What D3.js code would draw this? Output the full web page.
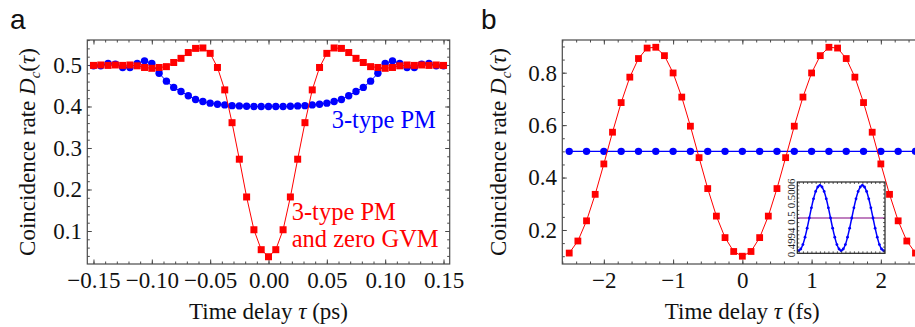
<!DOCTYPE html>
<html>
<head>
<meta charset="utf-8">
<script src="https://cdn.jsdelivr.net/npm/d3@7"></script>
<style>
  body { margin: 0; background: #fff; }
  svg { display: block; }
</style>
</head>
<body>
<svg id="chart" width="915" height="327"></svg>
<script>
// ---------- Panel a: coincidence rate vs time delay (ps) ----------
const tauA = [-0.15, -0.14375, -0.1375, -0.13125, -0.125, -0.11875, -0.1125, -0.10625, -0.1,
  -0.09375, -0.0875, -0.08125, -0.075, -0.06875, -0.0625, -0.05625, -0.05, -0.04375, -0.0375,
  -0.03125, -0.025, -0.01875, -0.0125, -0.00625, 0, 0.00625, 0.0125, 0.01875, 0.025, 0.03125,
  0.0375, 0.04375, 0.05, 0.05625, 0.0625, 0.06875, 0.075, 0.08125, 0.0875, 0.09375, 0.1,
  0.10625, 0.1125, 0.11875, 0.125, 0.13125, 0.1375, 0.14375, 0.15];

// 3-type PM
const blueA = [0.498, 0.498, 0.504, 0.502, 0.494, 0.494, 0.504, 0.510, 0.504, 0.480, 0.461,
  0.446, 0.436, 0.426, 0.417, 0.412, 0.408, 0.4055, 0.4038, 0.402, 0.4014, 0.4006, 0.400,
  0.400, 0.400, 0.400, 0.400, 0.4006, 0.4014, 0.402, 0.4038, 0.4055, 0.408, 0.412, 0.417,
  0.426, 0.436, 0.446, 0.461, 0.480, 0.504, 0.510, 0.504, 0.494, 0.494, 0.502, 0.504, 0.498, 0.498];

// 3-type PM and zero GVM
const redA = [0.499, 0.500, 0.499, 0.500, 0.499, 0.500, 0.498, 0.494, 0.492, 0.494, 0.496,
  0.506, 0.516, 0.530, 0.540, 0.541, 0.528, 0.494, 0.440, 0.361, 0.273, 0.182, 0.103, 0.055,
  0.038, 0.055, 0.103, 0.182, 0.273, 0.361, 0.440, 0.494, 0.528, 0.541, 0.540, 0.530, 0.516,
  0.506, 0.496, 0.494, 0.492, 0.494, 0.498, 0.500, 0.499, 0.500, 0.499, 0.500, 0.499];

const xTicksA = [-0.15, -0.10, -0.05, 0, 0.05, 0.10, 0.15];
const xTickLabelsA = ["\u22120.15", "\u22120.10", "\u22120.05", "0.00", "0.05", "0.10", "0.15"];
const yTicksA = [0.1, 0.2, 0.3, 0.4, 0.5];
const yTickLabelsA = ["0.1", "0.2", "0.3", "0.4", "0.5"];

// ---------- Panel b: coincidence rate vs time delay (fs) ----------
const tauRedB = [-2.5, -2.375, -2.25, -2.125, -2, -1.875, -1.75, -1.625, -1.5, -1.375, -1.25,
  -1.125, -1, -0.875, -0.75, -0.625, -0.5, -0.375, -0.25, -0.125, 0, 0.125, 0.25, 0.375, 0.5,
  0.625, 0.75, 0.875, 1, 1.125, 1.25, 1.375, 1.5, 1.625, 1.75, 1.875, 2, 2.125, 2.25, 2.375, 2.5];
const redB = [0.112, 0.158, 0.235, 0.336, 0.452, 0.573, 0.686, 0.783, 0.854, 0.894, 0.897,
  0.865, 0.799, 0.707, 0.596, 0.476, 0.358, 0.253, 0.171, 0.118, 0.100, 0.118, 0.171, 0.253,
  0.358, 0.476, 0.596, 0.707, 0.799, 0.865, 0.897, 0.894, 0.854, 0.783, 0.686, 0.573, 0.452,
  0.336, 0.235, 0.158, 0.112];

const tauBlueB = [-2.5, -2.25, -2, -1.75, -1.5, -1.25, -1, -0.75, -0.5, -0.25, 0, 0.25, 0.5,
  0.75, 1, 1.25, 1.5, 1.75, 2, 2.25, 2.5];
const blueB = [0.5, 0.5, 0.5, 0.5, 0.5, 0.5, 0.5, 0.5, 0.5, 0.5, 0.5, 0.5, 0.5, 0.5, 0.5, 0.5,
  0.5, 0.5, 0.5, 0.5, 0.5];

// Inset: the 3-type PM curve magnified around 0.5
const insetB = [0.49920, 0.49924, 0.49935, 0.49953, 0.49975, 0.50000, 0.50025, 0.50047,
  0.50065, 0.50076, 0.50080, 0.50076, 0.50065, 0.50047, 0.50025, 0.50000, 0.49975, 0.49953,
  0.49935, 0.49924, 0.49920, 0.49924, 0.49935, 0.49953, 0.49975, 0.50000, 0.50025, 0.50047,
  0.50065, 0.50076, 0.50080, 0.50076, 0.50065, 0.50047, 0.50025, 0.50000, 0.49975, 0.49953,
  0.49935, 0.49924, 0.49920];
const insetYTicks = [0.4994, 0.5, 0.5006];
const insetYTickLabels = ["0.4994", "0.5", "0.5006"];

const xTicksB = [-2, -1, 0, 1, 2];
const xTickLabelsB = ["\u22122", "\u22121", "0", "1", "2"];
const yTicksB = [0.2, 0.4, 0.6, 0.8];
const yTickLabelsB = ["0.2", "0.4", "0.6", "0.8"];

// ---------- drawing ----------
const svg = d3.select("#chart");
const SERIF = "'Liberation Serif', 'Times New Roman', serif";
const SANS = "'Liberation Sans', Arial, sans-serif";
const FRAME = "#4a4a4a";
const RED = "#ff0000", BLUE = "#0000ff";

function frameAxes(g, x, y, opt) {
  const [x0, x1] = x.range();
  const [y1, y0] = y.range();
  const fmt = (ticks, labels) => d => labels[ticks.indexOf(d)];
  const style = sel => {
    sel.select(".domain").remove();
    sel.selectAll("line").attr("stroke", FRAME).attr("stroke-width", 1);
    sel.selectAll("text").attr("font-family", SERIF).attr("font-size", opt.fs)
      .attr("fill", "#111");
  };
  const minorX = d3.range(opt.xMinor[0], opt.xMinor[1] + 1e-9, opt.xMinor[2]);
  const minorY = d3.range(opt.yMinor[0], opt.yMinor[1] + 1e-9, opt.yMinor[2]);

  // bottom
  g.append("g").attr("transform", `translate(0,${y1})`)
    .call(d3.axisBottom(x).tickValues(opt.xTicks).tickSize(-opt.major).tickPadding(opt.xPad)
      .tickFormat(fmt(opt.xTicks, opt.xLabels))).call(style);
  g.append("g").attr("transform", `translate(0,${y1})`)
    .call(d3.axisBottom(x).tickValues(minorX).tickSize(-opt.minor).tickFormat("")).call(style);
  // top
  g.append("g").attr("transform", `translate(0,${y0})`)
    .call(d3.axisTop(x).tickValues(opt.xTicks).tickSize(-opt.major).tickFormat("")).call(style);
  g.append("g").attr("transform", `translate(0,${y0})`)
    .call(d3.axisTop(x).tickValues(minorX).tickSize(-opt.minor).tickFormat("")).call(style);
  // left
  g.append("g").attr("transform", `translate(${x0},0)`)
    .call(d3.axisLeft(y).tickValues(opt.yTicks).tickSize(-opt.major).tickPadding(opt.yPad)
      .tickFormat(fmt(opt.yTicks, opt.yLabels))).call(style);
  g.append("g").attr("transform", `translate(${x0},0)`)
    .call(d3.axisLeft(y).tickValues(minorY).tickSize(-opt.minor).tickFormat("")).call(style);
  // right
  g.append("g").attr("transform", `translate(${x1},0)`)
    .call(d3.axisRight(y).tickValues(opt.yTicks).tickSize(-opt.major).tickFormat("")).call(style);
  g.append("g").attr("transform", `translate(${x1},0)`)
    .call(d3.axisRight(y).tickValues(minorY).tickSize(-opt.minor).tickFormat("")).call(style);

  g.append("rect").attr("x", x0).attr("y", y0).attr("width", x1 - x0).attr("height", y1 - y0)
    .attr("fill", "none").attr("stroke", FRAME).attr("stroke-width", opt.frameW || 1.2);
}

function yLabel(g, cx, cy) {
  const t = g.append("text")
    .attr("transform", `translate(${cx},${cy}) rotate(-90)`)
    .attr("text-anchor", "middle").attr("font-family", SERIF).attr("font-size", 23)
    .attr("fill", "#111");
  t.append("tspan").text("Coincidence rate ");
  t.append("tspan").attr("font-style", "italic").text("D");
  t.append("tspan").attr("font-style", "italic").attr("font-size", 15).attr("dy", 5).text("c");
  t.append("tspan").attr("dy", -5).text("(");
  t.append("tspan").attr("font-style", "italic").text("\u03c4");
  t.append("tspan").text(")");
}

function xLabel(g, cx, y, unit) {
  const t = g.append("text").attr("x", cx).attr("y", y).attr("text-anchor", "middle")
    .attr("font-family", SERIF).attr("font-size", 23).attr("fill", "#111");
  t.append("tspan").text("Time delay ");
  t.append("tspan").attr("font-style", "italic").text("\u03c4");
  t.append("tspan").text(` (${unit})`);
}

// ===== Panel a =====
{
  const g = svg.append("g");
  const x = d3.scaleLinear().domain([-0.1553, 0.1553]).range([87.3, 449.7]);
  const y = d3.scaleLinear().domain([0.0205, 0.5602]).range([264, 40]);

  frameAxes(g, x, y, {
    xTicks: xTicksA, xLabels: xTickLabelsA, yTicks: yTicksA, yLabels: yTickLabelsA,
    xMinor: [-0.15, 0.15, 0.01], yMinor: [0.04, 0.56, 0.02],
    major: 4.5, minor: 2.5, fs: 23, xPad: 8, yPad: 5.3
  });

  const blue = tauA.map((t, i) => [t, blueA[i]]);
  const red = tauA.map((t, i) => [t, redA[i]]);
  const line = d3.line().x(d => x(d[0])).y(d => y(d[1]));

  g.append("path").datum(blue).attr("d", line).attr("fill", "none")
    .attr("stroke", BLUE).attr("stroke-width", 1);
  g.selectAll("circle.ba").data(blue).join("circle").attr("class", "ba")
    .attr("cx", d => x(d[0])).attr("cy", d => y(d[1])).attr("r", 3.7).attr("fill", BLUE);

  g.append("path").datum(red).attr("d", line).attr("fill", "none")
    .attr("stroke", RED).attr("stroke-width", 1);
  const s = 7;
  g.selectAll("rect.ra").data(red).join("rect").attr("class", "ra")
    .attr("x", d => x(d[0]) - s / 2).attr("y", d => y(d[1]) - s / 2)
    .attr("width", s).attr("height", s).attr("fill", RED);

  g.append("text").attr("x", 331.7).attr("y", 128.3).attr("font-family", SERIF)
    .attr("font-size", 24.5).attr("fill", BLUE).text("3-type PM");
  g.append("text").attr("x", 291.7).attr("y", 220).attr("font-family", SERIF)
    .attr("font-size", 24.5).attr("fill", RED).text("3-type PM");
  g.append("text").attr("x", 291.7).attr("y", 246.7).attr("font-family", SERIF)
    .attr("font-size", 24.5).attr("fill", RED).text("and zero GVM");

  yLabel(g, 35, 152);
  xLabel(g, 268.5, 319.3, "ps");
  g.append("text").attr("x", 10).attr("y", 29).attr("font-family", SANS)
    .attr("font-size", 28).attr("fill", "#111").text("a");
}

// ===== Panel b =====
{
  const g = svg.append("g");
  const x = d3.scaleLinear().domain([-2.6, 2.6]).range([562.3, 922.4]);
  const y = d3.scaleLinear().domain([0.0703, 0.9247]).range([264, 40]);

  frameAxes(g, x, y, {
    xTicks: xTicksB, xLabels: xTickLabelsB, yTicks: yTicksB, yLabels: yTickLabelsB,
    xMinor: [-2.6, 2.6, 0.2], yMinor: [0.1, 0.9, 0.05],
    major: 4.5, minor: 2.5, fs: 23, xPad: 8, yPad: 5.3
  });

  const blue = tauBlueB.map((t, i) => [t, blueB[i]]);
  const red = tauRedB.map((t, i) => [t, redB[i]]);
  const line = d3.line().x(d => x(d[0])).y(d => y(d[1]));

  g.append("path").datum(blue).attr("d", line).attr("fill", "none")
    .attr("stroke", BLUE).attr("stroke-width", 1.2);
  g.selectAll("circle.bb").data(blue).join("circle").attr("class", "bb")
    .attr("cx", d => x(d[0])).attr("cy", d => y(d[1])).attr("r", 3.7).attr("fill", BLUE);

  g.append("path").datum(red).attr("d", line).attr("fill", "none")
    .attr("stroke", RED).attr("stroke-width", 1);
  const s = 6.8;
  g.selectAll("rect.rb").data(red).join("rect").attr("class", "rb")
    .attr("x", d => x(d[0]) - s / 2).attr("y", d => y(d[1]) - s / 2)
    .attr("width", s).attr("height", s).attr("fill", RED);

  yLabel(g, 506, 152);
  xLabel(g, 742.3, 319.3, "fs");
  g.append("text").attr("x", 481).attr("y", 29).attr("font-family", SANS)
    .attr("font-size", 28).attr("fill", "#111").text("b");

  // ----- inset -----
  const ix = d3.scaleLinear().domain([-2.58, 2.58]).range([797.3, 885]);
  const iy = d3.scaleLinear().domain([0.499135, 0.500882]).range([253.3, 182]);
  const ig = g.append("g");
  ig.append("rect").attr("x", 797.3).attr("y", 182).attr("width", 885 - 797.3)
    .attr("height", 253.3 - 182).attr("fill", "#fff");

  ig.append("line").attr("x1", ix(-2.58)).attr("x2", ix(2.58))
    .attr("y1", iy(0.5)).attr("y2", iy(0.5)).attr("stroke", "#800080").attr("stroke-width", 1.2);

  const inset = tauRedB.map((t, i) => [t, insetB[i]]);
  ig.append("path").datum(inset)
    .attr("d", d3.line().x(d => ix(d[0])).y(d => iy(d[1])).curve(d3.curveCatmullRom))
    .attr("fill", "none").attr("stroke", BLUE).attr("stroke-width", 1.5);
  ig.selectAll("circle").data(inset).join("circle")
    .attr("cx", d => ix(d[0])).attr("cy", d => iy(d[1])).attr("r", 1.4).attr("fill", BLUE);

  // inset frame with dense inward ticks
  const tickStyle = sel => {
    sel.select(".domain").remove();
    sel.selectAll("line").attr("stroke", "#333").attr("stroke-width", 0.8);
  };
  const ixMinor = d3.range(-2.5, 2.5001, 0.25);
  const iyMinor = d3.range(0.4992, 0.50081, 0.0001);
  ig.append("g").attr("transform", "translate(0,253.3)")
    .call(d3.axisBottom(ix).tickValues(ixMinor).tickSize(-2).tickFormat("")).call(tickStyle);
  ig.append("g").attr("transform", "translate(0,182)")
    .call(d3.axisTop(ix).tickValues(ixMinor).tickSize(-2).tickFormat("")).call(tickStyle);
  ig.append("g").attr("transform", "translate(797.3,0)")
    .call(d3.axisLeft(iy).tickValues(iyMinor).tickSize(-2).tickFormat("")).call(tickStyle);
  ig.append("g").attr("transform", "translate(885,0)")
    .call(d3.axisRight(iy).tickValues(iyMinor).tickSize(-2).tickFormat("")).call(tickStyle);
  ig.append("rect").attr("x", 797.3).attr("y", 182).attr("width", 885 - 797.3)
    .attr("height", 253.3 - 182).attr("fill", "none").attr("stroke", "#222").attr("stroke-width", 1.2);

  ig.selectAll("text.iyl").data(insetYTicks).join("text").attr("class", "iyl")
    .attr("transform", d => `translate(795,${iy(d)}) rotate(-90)`)
    .attr("text-anchor", "middle").attr("font-family", SERIF).attr("font-size", 10.8)
    .attr("fill", "#222").text((d, i) => insetYTickLabels[i]);
}
</script>
</body>
</html>
